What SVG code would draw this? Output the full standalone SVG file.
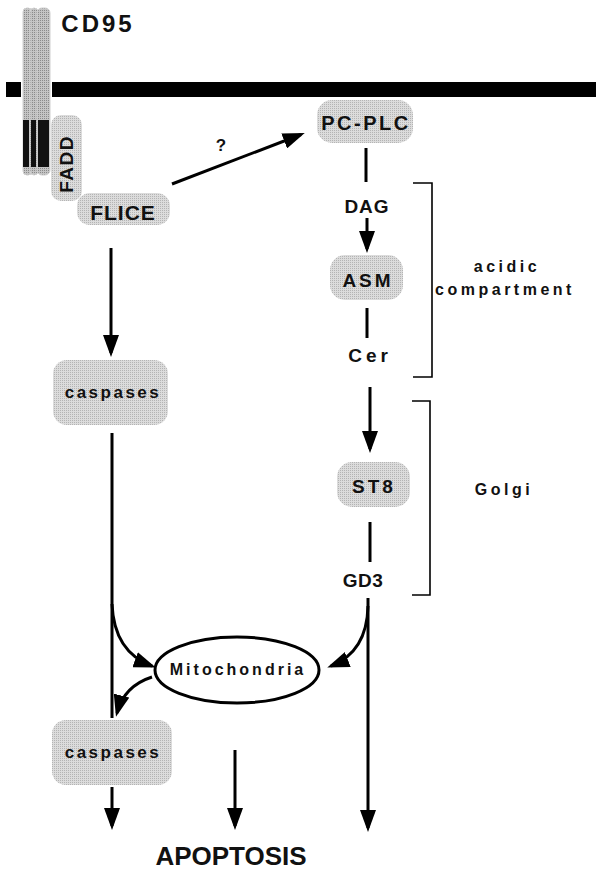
<svg xmlns="http://www.w3.org/2000/svg" width="596" height="871" viewBox="0 0 596 871">
<defs>
<pattern id="stip" width="2" height="2" patternUnits="userSpaceOnUse">
<rect width="2" height="2" fill="#dcdcdc"/>
<rect width="1" height="1" fill="#b4b4b4"/>
</pattern>
<pattern id="stipd" width="2" height="2" patternUnits="userSpaceOnUse">
<rect width="2" height="2" fill="#c4c4c4"/>
<rect width="1" height="1" fill="#8a8a8a"/>
</pattern>
<marker id="ah" viewBox="0 0 22 16" refX="18" refY="8" markerWidth="22" markerHeight="16" markerUnits="userSpaceOnUse" orient="auto">
<path d="M0,0 L22,8 L0,16 Z" fill="#000"/>
</marker>
</defs>
<style>
.box{fill:url(#stip);}
.t{font-family:"Liberation Sans",Arial,sans-serif;font-weight:bold;fill:#111;text-anchor:middle;}
.c{fill:none;stroke:#000;stroke-width:3;}
.a{fill:none;stroke:#000;stroke-width:3;marker-end:url(#ah);}
.br{fill:none;stroke:#000;stroke-width:1.6;}
</style>
<rect width="596" height="871" fill="#fff"/>

<g id="membrane">
<rect x="6" y="82" width="15" height="15" fill="#000"/>
<rect x="52" y="82" width="544" height="15" fill="#000"/>
</g>

<g id="cd95">
<rect x="23" y="8" width="9" height="167" rx="4" fill="url(#stipd)" stroke="#d0d0d0" stroke-width="1"/>
<rect x="30" y="8" width="8" height="167" rx="4" fill="url(#stipd)" stroke="#d0d0d0" stroke-width="1"/>
<rect x="37" y="8" width="13" height="167" rx="5" fill="url(#stipd)" stroke="#d0d0d0" stroke-width="1"/>
<rect x="23" y="120" width="6" height="47" fill="#111"/>
<rect x="31" y="120" width="5" height="47" fill="#111"/>
<rect x="38" y="120" width="11" height="47" fill="#111"/>
<text class="t" x="98" y="32" font-size="24" letter-spacing="3" text-anchor="middle">CD95</text>
</g>

<g id="fadd">
<rect class="box" x="51" y="115" width="31" height="86" rx="10"/>
<text class="t" transform="translate(73,164) rotate(-90)" font-size="19" letter-spacing="1.5">FADD</text>
</g>

<g id="flice">
<rect class="box" x="77" y="193" width="93" height="32" rx="13"/>
<text class="t" x="123" y="220" font-size="21" letter-spacing="1">FLICE</text>
</g>

<g id="pcplc">
<rect class="box" x="317" y="100" width="96" height="43" rx="15"/>
<text class="t" x="366" y="130" font-size="20" letter-spacing="2.5">PC-PLC</text>
</g>

<g id="dag">
<text class="t" x="367" y="213" font-size="19" letter-spacing="1">DAG</text>
</g>

<g id="asm">
<rect class="box" x="330" y="255" width="73" height="45" rx="15"/>
<text class="t" x="368" y="287" font-size="19" letter-spacing="3">ASM</text>
</g>

<g id="cer">
<text class="t" x="370" y="362" font-size="19" letter-spacing="4">Cer</text>
</g>

<g id="st8">
<rect class="box" x="337" y="462" width="73" height="45" rx="15"/>
<text class="t" x="374" y="493" font-size="19" letter-spacing="3">ST8</text>
</g>

<g id="gd3">
<text class="t" x="363" y="587" font-size="19" letter-spacing="0.5">GD3</text>
</g>

<g id="caspases1">
<rect class="box" x="53" y="360" width="115" height="65" rx="14"/>
<text class="t" x="113" y="398" font-size="17" letter-spacing="2.5">caspases</text>
</g>

<g id="mitochondria">
<ellipse cx="237" cy="670" rx="82" ry="33" fill="#fff" stroke="#000" stroke-width="3"/>
<text class="t" x="238" y="675" font-size="16" letter-spacing="3">Mitochondria</text>
</g>

<g id="caspases2">
<rect class="box" x="52" y="720" width="120" height="65" rx="14"/>
<text class="t" x="113" y="758" font-size="17" letter-spacing="2.5">caspases</text>
</g>

<g id="apoptosis">
<text class="t" x="231" y="865" font-size="26">APOPTOSIS</text>
</g>

<g id="acidic-compartment">
<path class="br" d="M413,183 H432 V377 H413"/>
<text class="t" x="507" y="272" font-size="16" letter-spacing="3.5">acidic</text>
<text class="t" x="505" y="295" font-size="16" letter-spacing="3.5">compartment</text>
</g>

<g id="golgi">
<path class="br" d="M412,401 H430 V595 H412"/>
<text class="t" x="504" y="495" font-size="16" letter-spacing="3.5">Golgi</text>
</g>

<g id="connectors">
<text class="t" x="221" y="151" font-size="17">?</text>
<line class="a" x1="172" y1="184" x2="301" y2="134.5"/>
<line class="c" x1="366" y1="148" x2="366" y2="182"/>
<line class="a" x1="367" y1="218" x2="367" y2="249"/>
<line class="c" x1="367" y1="308" x2="367" y2="338"/>
<line class="a" x1="370" y1="387" x2="370" y2="449"/>
<line class="c" x1="370" y1="522" x2="370" y2="562"/>
<line class="a" x1="368" y1="598" x2="368" y2="828"/>
<path class="a" d="M368,606 Q367,652 331,666"/>
<line class="a" x1="111" y1="248" x2="111" y2="353"/>
<line class="c" x1="112" y1="433" x2="112" y2="718"/>
<path class="a" d="M112,604 Q114,652 152,666"/>
<path class="a" d="M152,677 Q124,686 117,713"/>
<line class="a" x1="112" y1="787" x2="112" y2="826"/>
<line class="a" x1="235" y1="750" x2="235" y2="826"/>
</g>
</svg>
